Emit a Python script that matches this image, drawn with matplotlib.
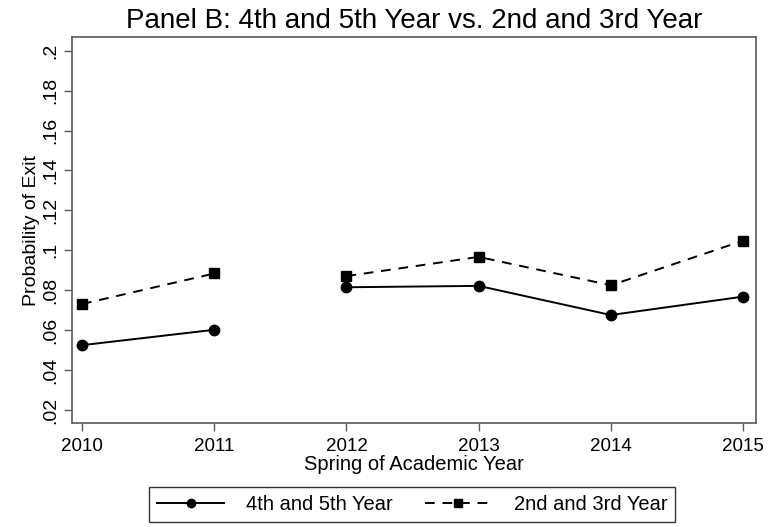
import matplotlib
matplotlib.use("Agg")
import matplotlib.pyplot as plt
import numpy as np

plt.rcParams['font.family'] = ['Liberation Sans', 'DejaVu Sans']

years = [2010, 2011, 2012, 2013, 2014, 2015]
exit_4th_5th = [0.0525, 0.0602, 0.0815, 0.0822, 0.0676, 0.0768]
exit_2nd_3rd = [0.0731, 0.0884, 0.0871, 0.0967, 0.0825, 0.1048]
segments = [(0, 2), (2, 6)]  # series is broken between 2011 and 2012
yticks = [0.02, 0.04, 0.06, 0.08, 0.10, 0.12, 0.14, 0.16, 0.18, 0.20]
ytick_labels = [".02", ".04", ".06", ".08", ".1", ".12", ".14", ".16", ".18", ".2"]

fig = plt.figure(figsize=(7.75, 5.27), dpi=100)
ax = fig.add_axes([0.0929, 0.1973, 0.8826, 0.7319])

x = np.array(years)
y1 = np.array(exit_4th_5th)
y2 = np.array(exit_2nd_3rd)

handles = []
for k, (a, b) in enumerate(segments):
    l1, = ax.plot(x[a:b], y1[a:b], color='black', lw=1.4, marker='o', ms=7.5)
    l2, = ax.plot(x[a:b], y2[a:b], color='black', lw=1.4, ls=(0, (5, 4)),
                  marker='s', ms=7)
    if k == 0:
        handles = [l1, l2]

ax.set_xlim(2009.924, 2015.098)
ax.set_ylim(0.0135, 0.2067)
ax.set_xticks(years)
ax.set_xticklabels([str(y) for y in years], fontsize=13.5)
ax.set_yticks(yticks)
ax.set_yticklabels(ytick_labels, fontsize=14, rotation=90, va='center')

for s in ax.spines.values():
    s.set_color('#5a5a5a')
    s.set_linewidth(1.2)
ax.tick_params(axis='both', direction='out', length=6, width=1, color='#5a5a5a', pad=3)
ax.tick_params(axis='x', pad=5)

ax.set_title("Panel B: 4th and 5th Year vs. 2nd and 3rd Year", fontsize=20, pad=7)
ax.set_xlabel("Spring of Academic Year", fontsize=14.5, labelpad=0)
ax.set_ylabel("Probability of Exit", fontsize=14, labelpad=2)

leg = fig.legend(handles, ["4th and 5th Year", "2nd and 3rd Year"], ncol=2,
                 loc='lower center', bbox_to_anchor=(0.532, -0.009), fontsize=14.5,
                 frameon=True, fancybox=False, handlelength=3.3, handletextpad=1.1,
                 columnspacing=1.6, borderpad=0.4, edgecolor='black', markerscale=0.8)
leg.get_frame().set_linewidth(1.0)

fig.savefig("out.png", dpi=100)
